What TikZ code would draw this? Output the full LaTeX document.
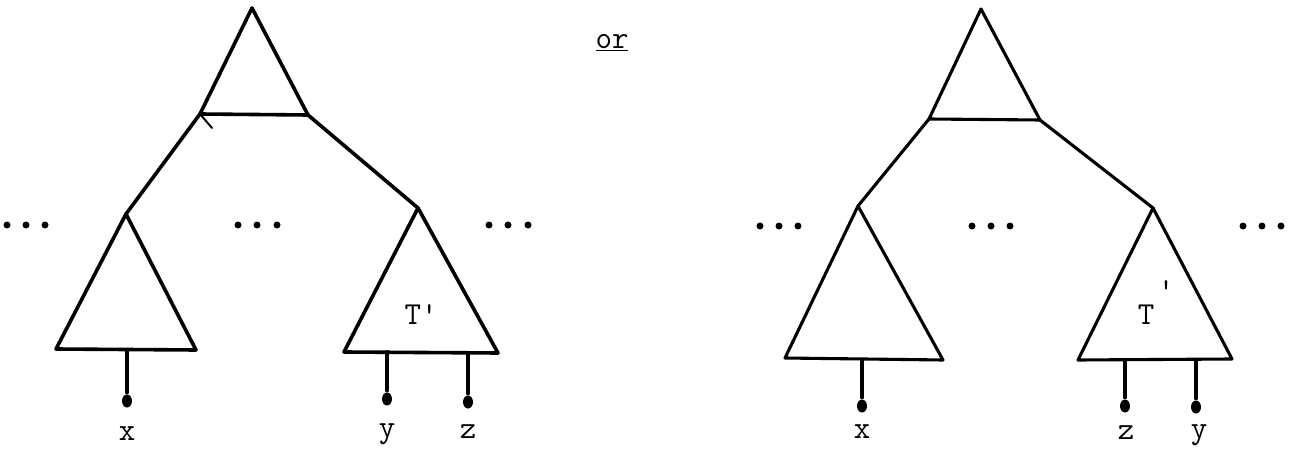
\documentclass[tikz,border=0pt]{standalone}
\usepackage{fontspec}
\setmonofont{Latin Modern Mono}
\usetikzlibrary{shapes.geometric}
\begin{document}
\begin{tikzpicture}[x=1pt,y=-1pt,line width=3.6pt,line join=round,line cap=round,
  leaf/.style={ellipse,fill,inner sep=0pt,minimum width=10pt,minimum height=13pt},
  ell/.style={circle,fill,inner sep=0pt,minimum size=7pt},
  lbl/.style={font=\fontsize{32}{34}\ttfamily\selectfont,anchor=base,inner sep=0pt}]
\useasboundingbox (0,0) rectangle (1290,449);
% ---------- left tree ----------
\coordinate (a1) at (252,8);
\coordinate (b1l) at (200,114);
\coordinate (b1r) at (308,115);
\coordinate (lc1) at (126,214);
\coordinate (rc1) at (418,208);
\coordinate (ll1a) at (56,349);
\coordinate (ll1b) at (196,350);
\coordinate (rl1a) at (344,352);
\coordinate (rl1b) at (498,353);
\draw (a1) -- (b1l) -- (b1r) -- cycle;
\draw (b1l) -- (lc1);
\draw (b1r) -- (rc1);
\draw (lc1) -- (ll1a) -- (ll1b) -- cycle;
\draw (rc1) -- (rl1a) -- (rl1b) -- cycle;
\coordinate (tick1) at (212,128);
\draw[line width=2pt] (b1l) -- (tick1);
\node[lbl] (tp1) at (421,324) {T'};
% leaves
\coordinate (s1x) at (127,350);
\coordinate (s1y) at (387,352);
\coordinate (s1z) at (468,353);
\node[leaf] (d1x) at (127,401) {};
\node[leaf] (d1y) at (387,399) {};
\node[leaf] (d1z) at (468,402) {};
\draw (s1x) -- (d1x);
\draw (s1y) -- (d1y);
\draw (s1z) -- (d1z);
\node[lbl] (l1x) at (127,440) {x};
\node[lbl] (l1y) at (387,437) {y};
\node[lbl] (l1z) at (468,438) {z};
% ellipses
\node[ell] (e1a) at (7,225) {};
\node[ell] (e1b) at (26,225) {};
\node[ell] (e1c) at (45,225) {};
\node[ell] (e2a) at (238,225) {};
\node[ell] (e2b) at (257,225) {};
\node[ell] (e2c) at (277,225) {};
\node[ell] (e3a) at (489,225) {};
\node[ell] (e3b) at (508,225) {};
\node[ell] (e3c) at (528,225) {};
% ---------- or ----------
\node[lbl] (or) at (612,49) {\underline{or}};
% ---------- right tree ----------
\coordinate (a2) at (981,9);
\coordinate (b2l) at (929,119);
\coordinate (b2r) at (1040,120);
\coordinate (lc2) at (858,206);
\coordinate (rc2) at (1153,208);
\coordinate (ll2a) at (785,358);
\coordinate (ll2b) at (943,360);
\coordinate (rl2a) at (1078,360);
\coordinate (rl2b) at (1232,359);
\begin{scope}[line width=3.1pt]
\draw (a2) -- (b2l) -- (b2r) -- cycle;
\draw (b2l) -- (lc2);
\draw (b2r) -- (rc2);
\draw (lc2) -- (ll2a) -- (ll2b) -- cycle;
\draw (rc2) -- (rl2a) -- (rl2b) -- cycle;
\end{scope}
\node[lbl] (tp2) at (1146,324) {T};
\node[lbl] (pr2) at (1166,300) {'};
\coordinate (s2x) at (862,360);
\coordinate (s2z) at (1125,360);
\coordinate (s2y) at (1196,360);
\node[leaf] (d2x) at (862,406) {};
\node[leaf] (d2z) at (1125,406) {};
\node[leaf] (d2y) at (1196,407) {};
\draw[line width=3.1pt] (s2x) -- (d2x);
\draw[line width=3.1pt] (s2z) -- (d2z);
\draw[line width=3.1pt] (s2y) -- (d2y);
\node[lbl] (l2x) at (862,438) {x};
\node[lbl] (l2z) at (1126,439) {z};
\node[lbl] (l2y) at (1199,438) {y};
\node[ell] (e4a) at (760,226) {};
\node[ell] (e4b) at (779,226) {};
\node[ell] (e4c) at (798,226) {};
\node[ell] (e5a) at (972,226) {};
\node[ell] (e5b) at (991,226) {};
\node[ell] (e5c) at (1010,226) {};
\node[ell] (e6a) at (1243,226) {};
\node[ell] (e6b) at (1262,226) {};
\node[ell] (e6c) at (1281,226) {};
\end{tikzpicture}
\end{document}
